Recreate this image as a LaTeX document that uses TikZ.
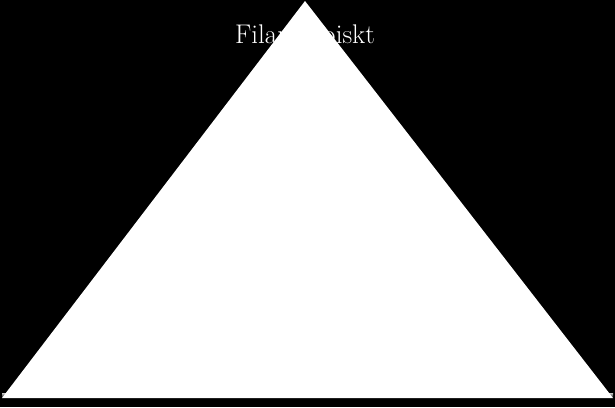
\documentclass[tikz,border=0pt]{standalone}
\begin{document}
\begin{tikzpicture}[x=1pt,y=-1pt,
  label text/.style={text=white,font=\fontsize{27}{32}\selectfont,anchor=base,inner sep=0pt},
  pyramid/.style={fill=white,draw=none}]
\fill[black] (0,0) rectangle (615,407);
\useasboundingbox (0,0) rectangle (615,407);
\node[label text] (t) at (305,43) {Filantropiskt};
\coordinate (apex) at (305,1);
\coordinate (bl) at (2,398);
\coordinate (br) at (613,398);
\shade[top color=gray!45,bottom color=black] ([yshift=0]bl) rectangle ([yshift=5]br);
\path[pyramid] (apex) -- (br) -- (bl) -- cycle;
\end{tikzpicture}
\end{document}
